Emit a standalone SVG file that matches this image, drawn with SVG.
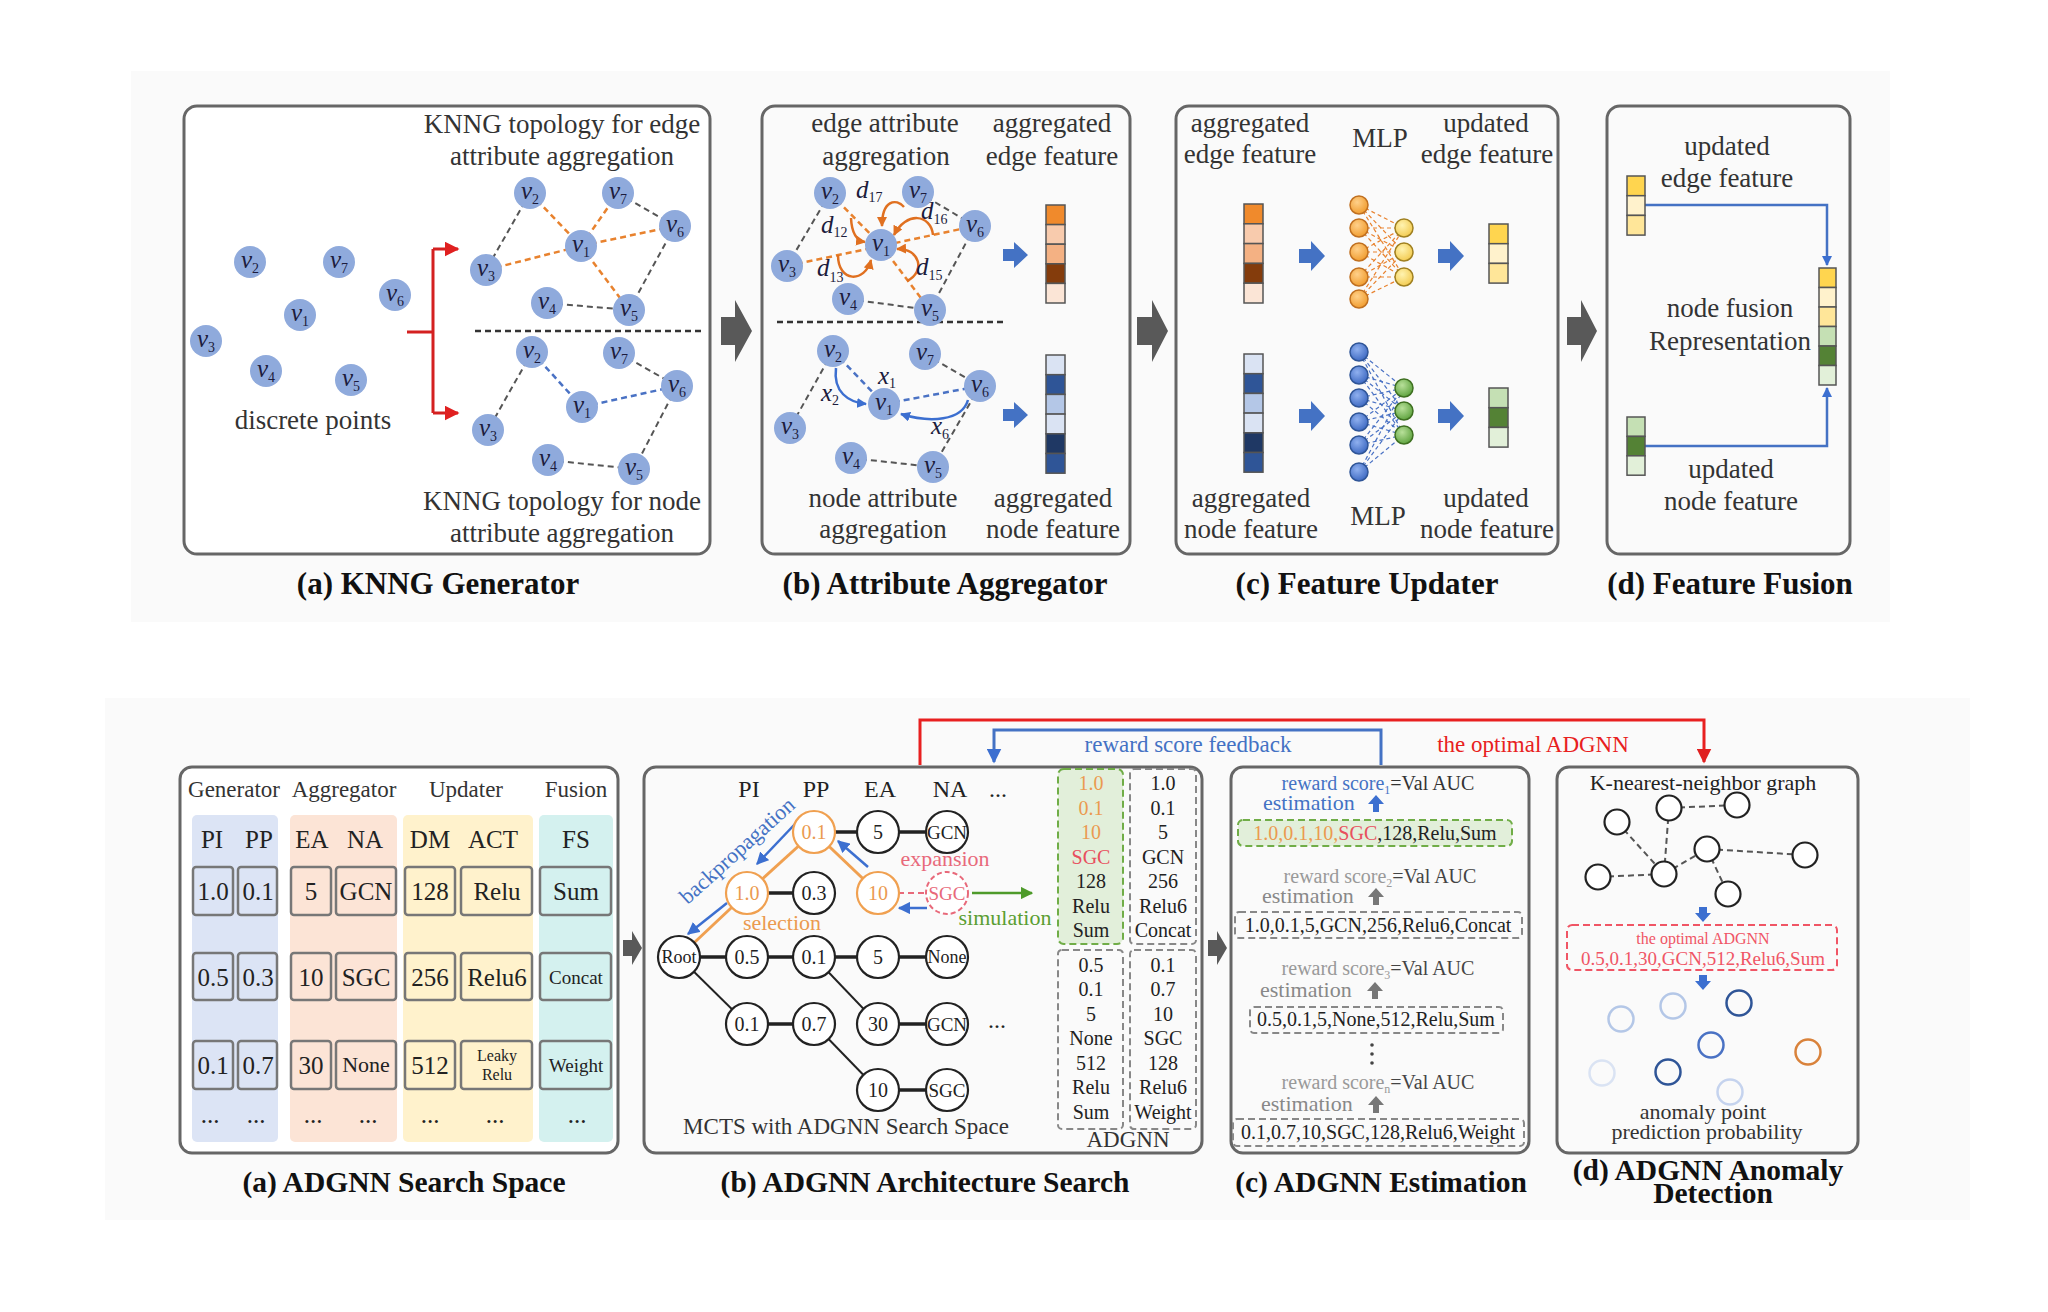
<svg xmlns="http://www.w3.org/2000/svg" width="2048" height="1312" viewBox="0 0 2048 1312">
<style>
text{font-family:"Liberation Serif","Times New Roman",serif;fill:#333}
.t27{font-size:27px}
.ttl{font-size:31px;font-weight:bold;fill:#111}
.ttl2{font-size:29.5px;font-weight:bold;fill:#111}
.box{fill:#fff;stroke:#666;stroke-width:3}
.vn{fill:#8faadc}
.vl{font-size:25px;font-style:italic;fill:#1c1c3c}
.vs{font-size:14px;font-style:normal}
.gd{stroke:#555;stroke-width:2;stroke-dasharray:6 4;fill:none}
.od{stroke:#e8822e;stroke-width:2.5;stroke-dasharray:6 4;fill:none}
.bd{stroke:#4a72c4;stroke-width:2.5;stroke-dasharray:6 4;fill:none}
.cell{stroke:#555;stroke-width:1.5}
.barrow{fill:#4472c4}
.garrow{fill:#595959}
.mo{fill:url(#gO);stroke:#c07020;stroke-width:1.5}
.my{fill:url(#gY);stroke:#a08020;stroke-width:1.5}
.mb{fill:url(#gB);stroke:#2f5597;stroke-width:1.5}
.mg{fill:url(#gG);stroke:#3e7020;stroke-width:1.5}
.mlo{stroke:#e8822e;stroke-width:1.2;stroke-dasharray:4 3}
.mlb{stroke:#4a72c4;stroke-width:1.2;stroke-dasharray:4 3}
.sc{stroke:#777;stroke-width:2.5;rx:3}
.c20{font-size:25px;text-anchor:middle;fill:#222}
.mc{fill:#fff;stroke:#222;stroke-width:2.2}
.mco{fill:#fff;stroke:#f0a050;stroke-width:2.2}
.ml{font-size:20px;text-anchor:middle;fill:#222}
.mlo2{font-size:20px;text-anchor:middle;fill:#eb9a50}
.hl{stroke:#222;stroke-width:3.5}
.dl{stroke:#222;stroke-width:2}
.ol{stroke:#f0a050;stroke-width:3}
.col{font-size:20px;text-anchor:middle;fill:#222}
.dash{fill:none;stroke:#888;stroke-width:2;stroke-dasharray:7 4}
.est{font-size:20px}
.kc{fill:#fff;stroke:#222;stroke-width:2.2}
</style>
<defs>
<marker id="mRed" viewBox="0 0 10 10" refX="9" refY="5" markerWidth="5" markerHeight="5" orient="auto"><path d="M0,0 L10,5 L0,10 Z" fill="#e02020"/></marker>
<marker id="mBlue" viewBox="0 0 10 10" refX="9" refY="5" markerWidth="5" markerHeight="5" orient="auto"><path d="M0,0 L10,5 L0,10 Z" fill="#3c6fd0"/></marker>
<marker id="mBlue2" viewBox="0 0 10 10" refX="9" refY="5" markerWidth="4" markerHeight="4" orient="auto"><path d="M0,0 L10,5 L0,10 Z" fill="#3c6fd0"/></marker>
<marker id="mOr" viewBox="0 0 10 10" refX="9" refY="5" markerWidth="4" markerHeight="4" orient="auto"><path d="M0,0 L10,5 L0,10 Z" fill="#e07020"/></marker>
<marker id="mGr" viewBox="0 0 10 10" refX="9" refY="5" markerWidth="5" markerHeight="5" orient="auto"><path d="M0,0 L10,5 L0,10 Z" fill="#4e9a2a"/></marker>
<radialGradient id="gO" cx="0.4" cy="0.35" r="0.7"><stop offset="0" stop-color="#ffd08a"/><stop offset="1" stop-color="#f09a2a"/></radialGradient>
<radialGradient id="gY" cx="0.4" cy="0.35" r="0.7"><stop offset="0" stop-color="#fff3b0"/><stop offset="1" stop-color="#f2c94c"/></radialGradient>
<radialGradient id="gB" cx="0.4" cy="0.35" r="0.7"><stop offset="0" stop-color="#8fb0ef"/><stop offset="1" stop-color="#3a66c0"/></radialGradient>
<radialGradient id="gG" cx="0.4" cy="0.35" r="0.7"><stop offset="0" stop-color="#b8e09a"/><stop offset="1" stop-color="#5aa03a"/></radialGradient>
</defs>
<rect width="2048" height="1312" fill="#fff"/>
<rect x="131" y="71" width="1759" height="551" fill="#fafafa"/>
<rect x="105" y="698" width="1865" height="522" fill="#fafafa"/>

<!-- ===== TOP (a) KNNG Generator ===== -->
<g id="panel-a-top">
<rect class="box" x="184" y="106" width="526" height="448" rx="13"/>
<text class="t27" x="562" y="133" text-anchor="middle">KNNG topology for edge</text>
<text class="t27" x="562" y="165" text-anchor="middle">attribute aggregation</text>
<text class="t27" x="562" y="510" text-anchor="middle">KNNG topology for node</text>
<text class="t27" x="562" y="542" text-anchor="middle">attribute aggregation</text>
<text class="t27" x="313" y="429" text-anchor="middle">discrete points</text>
<text class="ttl" x="438" y="594" text-anchor="middle">(a) KNNG Generator</text>
</g>
<g id="connectors">
<!-- top a -->
<line x1="475" y1="331" x2="704" y2="331" stroke="#333" stroke-width="2.5" stroke-dasharray="6 4"/>
<path d="M407 332 H433 M433 249 V413" stroke="#d42020" stroke-width="3" fill="none"/>
<path d="M433 249 H458" stroke="#d42020" stroke-width="3" fill="none" marker-end="url(#mRed)"/>
<path d="M433 413 H458" stroke="#d42020" stroke-width="3" fill="none" marker-end="url(#mRed)"/>
<line class="gd" x1="530" y1="193" x2="486" y2="270"/>
<line class="gd" x1="618" y1="193" x2="675" y2="226"/>
<line class="gd" x1="675" y1="226" x2="629" y2="310"/>
<line class="gd" x1="547" y1="303" x2="629" y2="310"/>
<line class="od" x1="530" y1="193" x2="581" y2="246"/>
<line class="od" x1="581" y1="246" x2="618" y2="193"/>
<line class="od" x1="581" y1="246" x2="675" y2="226"/>
<line class="od" x1="486" y1="270" x2="581" y2="246"/>
<line class="od" x1="581" y1="246" x2="629" y2="310"/>
<line class="gd" x1="532" y1="352" x2="488" y2="430"/>
<line class="gd" x1="619" y1="353" x2="677" y2="386"/>
<line class="gd" x1="677" y1="386" x2="634" y2="469"/>
<line class="gd" x1="548" y1="460" x2="634" y2="469"/>
<line class="bd" x1="532" y1="352" x2="582" y2="407"/>
<line class="bd" x1="582" y1="407" x2="677" y2="386"/>
<!-- top b -->
<line x1="777" y1="322" x2="1003" y2="322" stroke="#333" stroke-width="2.5" stroke-dasharray="6 4"/>
<line class="gd" x1="830" y1="193" x2="787" y2="266"/>
<line class="gd" x1="918" y1="192" x2="975" y2="226"/>
<line class="gd" x1="975" y1="226" x2="930" y2="310"/>
<line class="gd" x1="848" y1="299" x2="930" y2="310"/>
<line class="od" x1="830" y1="193" x2="881" y2="245"/>
<line class="od" x1="787" y1="266" x2="975" y2="226"/>
<line class="od" x1="881" y1="245" x2="930" y2="310"/>
<path d="M851 218 Q852 240 865 242" stroke="#e07020" stroke-width="2.5" fill="none" marker-end="url(#mOr)"/>
<path d="M904 207 C896 198 882 200 882 226" stroke="#e07020" stroke-width="2.5" fill="none" marker-end="url(#mOr)"/>
<path d="M933 235 C931 214 906 211 894 235" stroke="#e07020" stroke-width="2.5" fill="none" marker-end="url(#mOr)"/>
<path d="M907 281 C926 272 920 248 897 249" stroke="#e07020" stroke-width="2.5" fill="none" marker-end="url(#mOr)"/>
<path d="M838 255 C838 283 865 283 871 260" stroke="#e07020" stroke-width="2.5" fill="none" marker-end="url(#mOr)"/>
<line class="gd" x1="833" y1="351" x2="790" y2="428"/>
<line class="gd" x1="925" y1="354" x2="980" y2="386"/>
<line class="gd" x1="980" y1="386" x2="933" y2="467"/>
<line class="gd" x1="851" y1="458" x2="933" y2="467"/>
<line class="bd" x1="833" y1="351" x2="884" y2="404"/>
<line class="bd" x1="884" y1="404" x2="980" y2="386"/>
<path d="M836 368 C833 392 848 402 866 404" stroke="#3c6fd0" stroke-width="2.5" fill="none" marker-end="url(#mBlue2)"/>
<path d="M968 400 C962 421 930 423 901 414" stroke="#3c6fd0" stroke-width="2.5" fill="none" marker-end="url(#mBlue2)"/>
<!-- top d -->
<path d="M1645 205 H1827 V265" stroke="#4472c4" stroke-width="2.5" fill="none" marker-end="url(#mBlue2)"/>
<path d="M1645 446 H1827 V388" stroke="#4472c4" stroke-width="2.5" fill="none" marker-end="url(#mBlue2)"/>
<!-- panel arrows -->
<path class="garrow" d="M721 317 H735 V300 L752 331 L735 362 V345 H721 Z"/>
<path class="garrow" d="M1137 317 H1152 V300 L1168 331 L1152 362 V345 H1137 Z"/>
<path class="garrow" d="M1567 317 H1581 V300 L1597 331 L1581 362 V345 H1567 Z"/>
<path class="garrow" d="M623 940 H632 V931 L642 948 L632 965 V956 H623 Z"/>
<path class="garrow" d="M1208 940 H1217 V931 L1227 948 L1217 965 V956 H1208 Z"/>
<!-- feedback -->
<path d="M920 765 V720 H1704 V762" stroke="#e82020" stroke-width="3" fill="none" marker-end="url(#mRed)"/>
<path d="M1381 765 V730 H994 V762" stroke="#4472c4" stroke-width="3" fill="none" marker-end="url(#mBlue)"/>
<!-- MCTS edges -->
<line class="hl" x1="679" y1="957" x2="947" y2="957"/>
<line class="hl" x1="747" y1="893" x2="814" y2="893"/>
<line class="hl" x1="814" y1="832" x2="947" y2="832"/>
<line class="hl" x1="747" y1="1024" x2="814" y2="1024"/>
<line class="hl" x1="878" y1="1024" x2="947" y2="1024"/>
<line class="hl" x1="878" y1="1090" x2="947" y2="1090"/>
<line class="dl" x1="679" y1="957" x2="747" y2="1024"/>
<line class="dl" x1="814" y1="957" x2="878" y2="1024"/>
<line class="dl" x1="814" y1="1024" x2="878" y2="1090"/>
<line class="ol" x1="679" y1="957" x2="747" y2="893"/>
<line class="ol" x1="747" y1="893" x2="814" y2="832"/>
<line class="ol" x1="814" y1="832" x2="878" y2="893"/>
<line x1="878" y1="893" x2="947" y2="893" stroke="#e8697a" stroke-width="2" stroke-dasharray="6 4"/>
<path d="M868 867 L838 841" stroke="#3c6fd0" stroke-width="2.5" marker-end="url(#mBlue)"/>
<path d="M795 824 L757 864" stroke="#3c6fd0" stroke-width="2.5" marker-end="url(#mBlue)"/>
<path d="M727 903 L688 934" stroke="#3c6fd0" stroke-width="2.5" marker-end="url(#mBlue)"/>
<path d="M927 908 L899 908" stroke="#3c6fd0" stroke-width="2.5" marker-end="url(#mBlue)"/>
<path d="M972 893 L1032 893" stroke="#4e9a2a" stroke-width="2.5" marker-end="url(#mGr)"/>
<!-- KNN graph d -->
<line class="gd" x1="1669" y1="808" x2="1737" y2="805" stroke-width="2.5"/>
<line class="gd" x1="1617" y1="822" x2="1664" y2="874" stroke-width="2.5"/>
<line class="gd" x1="1669" y1="808" x2="1664" y2="874" stroke-width="2.5"/>
<line class="gd" x1="1598" y1="877" x2="1664" y2="874" stroke-width="2.5"/>
<line class="gd" x1="1664" y1="874" x2="1707" y2="849" stroke-width="2.5"/>
<line class="gd" x1="1707" y1="849" x2="1805" y2="855" stroke-width="2.5"/>
<line class="gd" x1="1707" y1="849" x2="1728" y2="894" stroke-width="2.5"/>
</g>

<!-- nodes top a -->
<g id="node-a-v2"><circle class="vn" cx="250" cy="262" r="16"/><text class="vl" x="241" y="268">v<tspan class="vs" dy="5">2</tspan></text></g>
<g id="node-a-v7"><circle class="vn" cx="339" cy="262" r="16"/><text class="vl" x="330" y="268">v<tspan class="vs" dy="5">7</tspan></text></g>
<g id="node-a-v6"><circle class="vn" cx="395" cy="295" r="16"/><text class="vl" x="386" y="301">v<tspan class="vs" dy="5">6</tspan></text></g>
<g id="node-a-v1"><circle class="vn" cx="300" cy="315" r="16"/><text class="vl" x="291" y="321">v<tspan class="vs" dy="5">1</tspan></text></g>
<g id="node-a-v3"><circle class="vn" cx="206" cy="341" r="16"/><text class="vl" x="197" y="347">v<tspan class="vs" dy="5">3</tspan></text></g>
<g id="node-a-v4"><circle class="vn" cx="266" cy="371" r="16"/><text class="vl" x="257" y="377">v<tspan class="vs" dy="5">4</tspan></text></g>
<g id="node-a-v5"><circle class="vn" cx="351" cy="380" r="16"/><text class="vl" x="342" y="386">v<tspan class="vs" dy="5">5</tspan></text></g>

<g id="node-ae-v2"><circle class="vn" cx="530" cy="193" r="16"/><text class="vl" x="521" y="199">v<tspan class="vs" dy="5">2</tspan></text></g>
<g id="node-ae-v7"><circle class="vn" cx="618" cy="193" r="16"/><text class="vl" x="609" y="199">v<tspan class="vs" dy="5">7</tspan></text></g>
<g id="node-ae-v6"><circle class="vn" cx="675" cy="226" r="16"/><text class="vl" x="666" y="232">v<tspan class="vs" dy="5">6</tspan></text></g>
<g id="node-ae-v1"><circle class="vn" cx="581" cy="246" r="16"/><text class="vl" x="572" y="252">v<tspan class="vs" dy="5">1</tspan></text></g>
<g id="node-ae-v3"><circle class="vn" cx="486" cy="270" r="16"/><text class="vl" x="477" y="276">v<tspan class="vs" dy="5">3</tspan></text></g>
<g id="node-ae-v4"><circle class="vn" cx="547" cy="303" r="16"/><text class="vl" x="538" y="309">v<tspan class="vs" dy="5">4</tspan></text></g>
<g id="node-ae-v5"><circle class="vn" cx="629" cy="310" r="16"/><text class="vl" x="620" y="316">v<tspan class="vs" dy="5">5</tspan></text></g>

<g id="node-an-v2"><circle class="vn" cx="532" cy="352" r="16"/><text class="vl" x="523" y="358">v<tspan class="vs" dy="5">2</tspan></text></g>
<g id="node-an-v7"><circle class="vn" cx="619" cy="353" r="16"/><text class="vl" x="610" y="359">v<tspan class="vs" dy="5">7</tspan></text></g>
<g id="node-an-v6"><circle class="vn" cx="677" cy="386" r="16"/><text class="vl" x="668" y="392">v<tspan class="vs" dy="5">6</tspan></text></g>
<g id="node-an-v1"><circle class="vn" cx="582" cy="407" r="16"/><text class="vl" x="573" y="413">v<tspan class="vs" dy="5">1</tspan></text></g>
<g id="node-an-v3"><circle class="vn" cx="488" cy="430" r="16"/><text class="vl" x="479" y="436">v<tspan class="vs" dy="5">3</tspan></text></g>
<g id="node-an-v4"><circle class="vn" cx="548" cy="460" r="16"/><text class="vl" x="539" y="466">v<tspan class="vs" dy="5">4</tspan></text></g>
<g id="node-an-v5"><circle class="vn" cx="634" cy="469" r="16"/><text class="vl" x="625" y="475">v<tspan class="vs" dy="5">5</tspan></text></g>

<!-- ===== TOP (b) ===== -->
<g id="panel-b-top">
<rect class="box" x="762" y="106" width="368" height="448" rx="13" fill="none" style="fill:none"/>
<text class="t27" x="885" y="132" text-anchor="middle">edge attribute</text>
<text class="t27" x="886" y="165" text-anchor="middle">aggregation</text>
<text class="t27" x="1052" y="132" text-anchor="middle">aggregated</text>
<text class="t27" x="1052" y="165" text-anchor="middle">edge feature</text>
<text class="t27" x="883" y="507" text-anchor="middle">node attribute</text>
<text class="t27" x="883" y="538" text-anchor="middle">aggregation</text>
<text class="t27" x="1053" y="507" text-anchor="middle">aggregated</text>
<text class="t27" x="1053" y="538" text-anchor="middle">node feature</text>
<text class="ttl" x="945" y="594" text-anchor="middle">(b) Attribute Aggregator</text>
</g>
<g id="node-be-v2"><circle class="vn" cx="830" cy="193" r="16"/><text class="vl" x="821" y="199">v<tspan class="vs" dy="5">2</tspan></text></g>
<g id="node-be-v7"><circle class="vn" cx="918" cy="192" r="16"/><text class="vl" x="909" y="198">v<tspan class="vs" dy="5">7</tspan></text></g>
<g id="node-be-v6"><circle class="vn" cx="975" cy="226" r="16"/><text class="vl" x="966" y="232">v<tspan class="vs" dy="5">6</tspan></text></g>
<g id="node-be-v1"><circle class="vn" cx="881" cy="245" r="16"/><text class="vl" x="872" y="251">v<tspan class="vs" dy="5">1</tspan></text></g>
<g id="node-be-v3"><circle class="vn" cx="787" cy="266" r="16"/><text class="vl" x="778" y="272">v<tspan class="vs" dy="5">3</tspan></text></g>
<g id="node-be-v4"><circle class="vn" cx="848" cy="299" r="16"/><text class="vl" x="839" y="305">v<tspan class="vs" dy="5">4</tspan></text></g>
<g id="node-be-v5"><circle class="vn" cx="930" cy="310" r="16"/><text class="vl" x="921" y="316">v<tspan class="vs" dy="5">5</tspan></text></g>
<g id="dlabels">
<text class="vl" x="856" y="198">d<tspan class="vs" dy="4">17</tspan></text>
<text class="vl" x="821" y="233">d<tspan class="vs" dy="4">12</tspan></text>
<text class="vl" x="921" y="219">d<tspan class="vs" dy="5">16</tspan></text>
<text class="vl" x="817" y="276">d<tspan class="vs" dy="6">13</tspan></text>
<text class="vl" x="916" y="275">d<tspan class="vs" dy="5">15</tspan></text>
<text class="vl" x="878" y="384">x<tspan class="vs" dy="4">1</tspan></text>
<text class="vl" x="821" y="401">x<tspan class="vs" dy="4">2</tspan></text>
<text class="vl" x="931" y="434">x<tspan class="vs" dy="5">6</tspan></text>
</g>
<g id="node-bn-v2"><circle class="vn" cx="833" cy="351" r="16"/><text class="vl" x="824" y="357">v<tspan class="vs" dy="5">2</tspan></text></g>
<g id="node-bn-v7"><circle class="vn" cx="925" cy="354" r="16"/><text class="vl" x="916" y="360">v<tspan class="vs" dy="5">7</tspan></text></g>
<g id="node-bn-v6"><circle class="vn" cx="980" cy="386" r="16"/><text class="vl" x="971" y="392">v<tspan class="vs" dy="5">6</tspan></text></g>
<g id="node-bn-v1"><circle class="vn" cx="884" cy="404" r="16"/><text class="vl" x="875" y="410">v<tspan class="vs" dy="5">1</tspan></text></g>
<g id="node-bn-v3"><circle class="vn" cx="790" cy="428" r="16"/><text class="vl" x="781" y="434">v<tspan class="vs" dy="5">3</tspan></text></g>
<g id="node-bn-v4"><circle class="vn" cx="851" cy="458" r="16"/><text class="vl" x="842" y="464">v<tspan class="vs" dy="5">4</tspan></text></g>
<g id="node-bn-v5"><circle class="vn" cx="933" cy="467" r="16"/><text class="vl" x="924" y="473">v<tspan class="vs" dy="5">5</tspan></text></g>
<g id="bar-b-edge">
<path class="barrow" d="M1003 249 H1014 V242 L1028 255 L1014 268 V261 H1003 Z"/>
<rect class="cell" x="1046" y="205" width="19" height="19.6" fill="#f08a2c"/>
<rect class="cell" x="1046" y="224.6" width="19" height="19.6" fill="#f8cbad"/>
<rect class="cell" x="1046" y="244.2" width="19" height="19.6" fill="#f4b183"/>
<rect class="cell" x="1046" y="263.8" width="19" height="19.6" fill="#843c0c"/>
<rect class="cell" x="1046" y="283.4" width="19" height="19.6" fill="#fbe5d6"/>
</g>
<g id="bar-b-node">
<path class="barrow" d="M1003 409 H1014 V402 L1028 415 L1014 428 V421 H1003 Z"/>
<rect class="cell" x="1046" y="355" width="19" height="19.7" fill="#dae3f3"/>
<rect class="cell" x="1046" y="374.7" width="19" height="19.7" fill="#2f5597"/>
<rect class="cell" x="1046" y="394.4" width="19" height="19.7" fill="#b4c7e7"/>
<rect class="cell" x="1046" y="414.1" width="19" height="19.7" fill="#dae3f3"/>
<rect class="cell" x="1046" y="433.8" width="19" height="19.7" fill="#1f3864"/>
<rect class="cell" x="1046" y="453.5" width="19" height="19.7" fill="#2f5597"/>
</g>

<!-- ===== TOP (c) ===== -->
<g id="panel-c-top">
<rect class="box" x="1176" y="106" width="382" height="448" rx="13" style="fill:none"/>
<text class="t27" x="1250" y="132" text-anchor="middle">aggregated</text>
<text class="t27" x="1250" y="163" text-anchor="middle">edge feature</text>
<text class="t27" x="1380" y="147" text-anchor="middle">MLP</text>
<text class="t27" x="1486" y="132" text-anchor="middle">updated</text>
<text class="t27" x="1487" y="163" text-anchor="middle">edge feature</text>
<text class="t27" x="1251" y="507" text-anchor="middle">aggregated</text>
<text class="t27" x="1251" y="538" text-anchor="middle">node feature</text>
<text class="t27" x="1378" y="525" text-anchor="middle">MLP</text>
<text class="t27" x="1486" y="507" text-anchor="middle">updated</text>
<text class="t27" x="1487" y="538" text-anchor="middle">node feature</text>
<text class="ttl" x="1367" y="594" text-anchor="middle">(c) Feature Updater</text>
</g>
<g id="bar-c-edge">
<rect class="cell" x="1244" y="204" width="19" height="19.8" fill="#f08a2c"/>
<rect class="cell" x="1244" y="223.8" width="19" height="19.8" fill="#f8cbad"/>
<rect class="cell" x="1244" y="243.6" width="19" height="19.8" fill="#f4b183"/>
<rect class="cell" x="1244" y="263.4" width="19" height="19.8" fill="#843c0c"/>
<rect class="cell" x="1244" y="283.2" width="19" height="19.8" fill="#fbe5d6"/>
<path class="barrow" d="M1299 249 H1311 V241 L1325 256 L1311 271 V263 H1299 Z"/>
<path class="barrow" d="M1438 249 H1450 V241 L1464 256 L1450 271 V263 H1438 Z"/>
<rect class="cell" x="1489" y="224" width="19" height="19.7" fill="#ffd54f"/>
<rect class="cell" x="1489" y="243.7" width="19" height="19.7" fill="#fff2cc"/>
<rect class="cell" x="1489" y="263.4" width="19" height="19.7" fill="#ffe699"/>
</g>
<g id="mlp-edge">
<g class="mlo">
<line x1="1359" y1="205" x2="1404" y2="228"/><line x1="1359" y1="205" x2="1404" y2="252"/><line x1="1359" y1="205" x2="1404" y2="277"/>
<line x1="1359" y1="228" x2="1404" y2="228"/><line x1="1359" y1="228" x2="1404" y2="252"/><line x1="1359" y1="228" x2="1404" y2="277"/>
<line x1="1359" y1="252" x2="1404" y2="228"/><line x1="1359" y1="252" x2="1404" y2="252"/><line x1="1359" y1="252" x2="1404" y2="277"/>
<line x1="1359" y1="277" x2="1404" y2="228"/><line x1="1359" y1="277" x2="1404" y2="252"/><line x1="1359" y1="277" x2="1404" y2="277"/>
<line x1="1359" y1="299" x2="1404" y2="228"/><line x1="1359" y1="299" x2="1404" y2="252"/><line x1="1359" y1="299" x2="1404" y2="277"/>
</g>
<circle class="mo" cx="1359" cy="205" r="9"/><circle class="mo" cx="1359" cy="228" r="9"/><circle class="mo" cx="1359" cy="252" r="9"/><circle class="mo" cx="1359" cy="277" r="9"/><circle class="mo" cx="1359" cy="299" r="9"/>
<circle class="my" cx="1404" cy="228" r="9"/><circle class="my" cx="1404" cy="252" r="9"/><circle class="my" cx="1404" cy="277" r="9"/>
</g>
<g id="bar-c-node">
<rect class="cell" x="1244" y="354" width="19" height="19.7" fill="#dae3f3"/>
<rect class="cell" x="1244" y="373.7" width="19" height="19.7" fill="#2f5597"/>
<rect class="cell" x="1244" y="393.4" width="19" height="19.7" fill="#b4c7e7"/>
<rect class="cell" x="1244" y="413.1" width="19" height="19.7" fill="#dae3f3"/>
<rect class="cell" x="1244" y="432.8" width="19" height="19.7" fill="#1f3864"/>
<rect class="cell" x="1244" y="452.5" width="19" height="19.7" fill="#2f5597"/>
<path class="barrow" d="M1299 409 H1311 V401 L1325 416 L1311 431 V423 H1299 Z"/>
<path class="barrow" d="M1438 409 H1450 V401 L1464 416 L1450 431 V423 H1438 Z"/>
<rect class="cell" x="1489" y="388" width="19" height="19.7" fill="#c5e0b4"/>
<rect class="cell" x="1489" y="407.7" width="19" height="19.7" fill="#548235"/>
<rect class="cell" x="1489" y="427.4" width="19" height="19.7" fill="#e2f0d9"/>
</g>
<g id="mlp-node">
<g class="mlb">
<line x1="1359" y1="352" x2="1404" y2="388"/><line x1="1359" y1="352" x2="1404" y2="411"/><line x1="1359" y1="352" x2="1404" y2="435"/>
<line x1="1359" y1="375" x2="1404" y2="388"/><line x1="1359" y1="375" x2="1404" y2="411"/><line x1="1359" y1="375" x2="1404" y2="435"/>
<line x1="1359" y1="398" x2="1404" y2="388"/><line x1="1359" y1="398" x2="1404" y2="411"/><line x1="1359" y1="398" x2="1404" y2="435"/>
<line x1="1359" y1="422" x2="1404" y2="388"/><line x1="1359" y1="422" x2="1404" y2="411"/><line x1="1359" y1="422" x2="1404" y2="435"/>
<line x1="1359" y1="445" x2="1404" y2="388"/><line x1="1359" y1="445" x2="1404" y2="411"/><line x1="1359" y1="445" x2="1404" y2="435"/>
<line x1="1359" y1="472" x2="1404" y2="388"/><line x1="1359" y1="472" x2="1404" y2="411"/><line x1="1359" y1="472" x2="1404" y2="435"/>
</g>
<circle class="mb" cx="1359" cy="352" r="9"/><circle class="mb" cx="1359" cy="375" r="9"/><circle class="mb" cx="1359" cy="398" r="9"/><circle class="mb" cx="1359" cy="422" r="9"/><circle class="mb" cx="1359" cy="445" r="9"/><circle class="mb" cx="1359" cy="472" r="9"/>
<circle class="mg" cx="1404" cy="388" r="9"/><circle class="mg" cx="1404" cy="411" r="9"/><circle class="mg" cx="1404" cy="435" r="9"/>
</g>

<!-- ===== TOP (d) ===== -->
<g id="panel-d-top">
<rect class="box" x="1607" y="106" width="243" height="448" rx="13" style="fill:none"/>
<text class="t27" x="1727" y="155" text-anchor="middle">updated</text>
<text class="t27" x="1727" y="187" text-anchor="middle">edge feature</text>
<text class="t27" x="1730" y="317" text-anchor="middle">node fusion</text>
<text class="t27" x="1730" y="350" text-anchor="middle">Representation</text>
<text class="t27" x="1731" y="478" text-anchor="middle">updated</text>
<text class="t27" x="1731" y="510" text-anchor="middle">node feature</text>
<text class="ttl" x="1730" y="594" text-anchor="middle">(d) Feature Fusion</text>
</g>
<g id="bar-d">
<rect class="cell" x="1627" y="176" width="18" height="19.7" fill="#ffd54f"/>
<rect class="cell" x="1627" y="195.7" width="18" height="19.7" fill="#fff2cc"/>
<rect class="cell" x="1627" y="215.4" width="18" height="19.7" fill="#ffe699"/>
<rect class="cell" x="1627" y="417" width="18" height="19.4" fill="#c5e0b4"/>
<rect class="cell" x="1627" y="436.4" width="18" height="19.4" fill="#548235"/>
<rect class="cell" x="1627" y="455.8" width="18" height="19.4" fill="#e2f0d9"/>
<rect class="cell" x="1819" y="268" width="17" height="19.5" fill="#ffd54f"/>
<rect class="cell" x="1819" y="287.5" width="17" height="19.5" fill="#fff2cc"/>
<rect class="cell" x="1819" y="307" width="17" height="19.5" fill="#ffe699"/>
<rect class="cell" x="1819" y="326.5" width="17" height="19.5" fill="#c5e0b4"/>
<rect class="cell" x="1819" y="346" width="17" height="19.5" fill="#548235"/>
<rect class="cell" x="1819" y="365.5" width="17" height="19.5" fill="#e2f0d9"/>
</g>

<!-- ===== BOTTOM (a) Search space ===== -->
<g id="panel-a-bot">
<rect class="box" x="180" y="767" width="438" height="386" rx="12"/>
<rect x="192" y="815" width="86" height="327" rx="5" fill="#dce4f5"/>
<rect x="290" y="815" width="107" height="327" rx="5" fill="#fce4d6"/>
<rect x="403" y="815" width="130" height="327" rx="5" fill="#fff2cc"/>
<rect x="539" y="815" width="74" height="327" rx="5" fill="#d4f1ef"/>
<g style="font-size:23px;text-anchor:middle">
<text x="234" y="797">Generator</text><text x="344" y="797">Aggregator</text><text x="466" y="797">Updater</text><text x="576" y="797">Fusion</text>
</g>
<g style="font-size:25px;text-anchor:middle;fill:#222">
<text x="212" y="848" style="fill:#222">PI</text><text x="259" y="848" style="fill:#222">PP</text><text x="312" y="848" style="fill:#222">EA</text><text x="365" y="848" style="fill:#222">NA</text><text x="430" y="848" style="fill:#222">DM</text><text x="493" y="848" style="fill:#222">ACT</text><text x="576" y="848" style="fill:#222">FS</text>
</g>
<g fill="none" stroke="#777" stroke-width="2.5">
<rect x="193" y="867" width="40" height="48" rx="3"/><rect x="238" y="867" width="39" height="48" rx="3"/><rect x="291" y="867" width="40" height="48" rx="3"/><rect x="336" y="867" width="60" height="48" rx="3"/><rect x="405" y="867" width="50" height="48" rx="3"/><rect x="461" y="867" width="71" height="48" rx="3"/><rect x="540" y="867" width="71" height="48" rx="3"/>
<rect x="193" y="953" width="40" height="47" rx="3"/><rect x="238" y="953" width="39" height="47" rx="3"/><rect x="291" y="953" width="40" height="47" rx="3"/><rect x="336" y="953" width="60" height="47" rx="3"/><rect x="405" y="953" width="50" height="47" rx="3"/><rect x="461" y="953" width="71" height="47" rx="3"/><rect x="540" y="953" width="71" height="47" rx="3"/>
<rect x="193" y="1041" width="40" height="48" rx="3"/><rect x="238" y="1041" width="39" height="48" rx="3"/><rect x="291" y="1041" width="40" height="48" rx="3"/><rect x="336" y="1041" width="60" height="48" rx="3"/><rect x="405" y="1041" width="50" height="48" rx="3"/><rect x="461" y="1041" width="71" height="48" rx="3"/><rect x="540" y="1041" width="71" height="48" rx="3"/>
</g>
<g class="c20">
<text class="c20" x="213" y="900">1.0</text><text class="c20" x="258" y="900">0.1</text><text class="c20" x="311" y="900">5</text><text class="c20" x="366" y="900">GCN</text><text class="c20" x="430" y="900">128</text><text class="c20" x="497" y="900">Relu</text><text class="c20" x="576" y="900">Sum</text>
<text class="c20" x="213" y="986">0.5</text><text class="c20" x="258" y="986">0.3</text><text class="c20" x="311" y="986">10</text><text class="c20" x="366" y="986">SGC</text><text class="c20" x="430" y="986">256</text><text class="c20" x="497" y="986">Relu6</text><text class="c20" x="576" y="984" style="font-size:19px">Concat</text>
<text class="c20" x="213" y="1074">0.1</text><text class="c20" x="258" y="1074">0.7</text><text class="c20" x="311" y="1074">30</text><text class="c20" x="366" y="1072" style="font-size:22px">None</text><text class="c20" x="430" y="1074">512</text><text class="c20" x="497" y="1061" style="font-size:16px">Leaky</text><text class="c20" x="497" y="1080" style="font-size:16px">Relu</text><text class="c20" x="576" y="1072" style="font-size:19px">Weight</text>
<text class="c20" x="210" y="1123">...</text><text class="c20" x="256" y="1123">...</text><text class="c20" x="313" y="1123">...</text><text class="c20" x="368" y="1123">...</text><text class="c20" x="430" y="1123">...</text><text class="c20" x="495" y="1123">...</text><text class="c20" x="577" y="1123">...</text>
</g>
<text class="ttl2" x="404" y="1192" text-anchor="middle">(a) ADGNN Search Space</text>
</g>

<!-- ===== BOTTOM (b) Architecture search ===== -->
<g id="panel-b-bot">
<rect class="box" x="644" y="767" width="558" height="386" rx="12" style="fill:none"/>
<g style="font-size:24px;text-anchor:middle">
<text x="749" y="797" style="fill:#222">PI</text><text x="816" y="797" style="fill:#222">PP</text><text x="880" y="797" style="fill:#222">EA</text><text x="950" y="797" style="fill:#222">NA</text><text x="998" y="797" style="fill:#222">...</text>
</g>
<text x="742" y="856" transform="rotate(-42 742 856)" text-anchor="middle" style="font-size:22px;fill:#4472c4">backpropagation</text>
<text x="782" y="930" text-anchor="middle" style="font-size:22px;fill:#eb9a50">selection</text>
<text x="945" y="866" text-anchor="middle" style="font-size:22px;fill:#e8697a">expansion</text>
<text x="1005" y="925" text-anchor="middle" style="font-size:22px;fill:#5a9e32">simulation</text>
<text x="846" y="1134" text-anchor="middle" style="font-size:23px">MCTS with ADGNN Search Space</text>
<text class="ttl2" x="925" y="1192" text-anchor="middle">(b) ADGNN Architecture Search</text>
</g>
<g id="mcts-nodes">
<g id="m-01a"><circle class="mco" cx="814" cy="832" r="21"/><text class="mlo2" x="814" y="839">0.1</text></g>
<g id="m-5a"><circle class="mc" cx="878" cy="832" r="21"/><text class="ml" x="878" y="839">5</text></g>
<g id="m-gcna"><circle class="mc" cx="947" cy="832" r="21"/><text class="ml" x="947" y="839" style="font-size:19px">GCN</text></g>
<g id="m-10a"><circle class="mco" cx="747" cy="893" r="21"/><text class="mlo2" x="747" y="900">1.0</text></g>
<g id="m-03"><circle class="mc" cx="814" cy="893" r="21"/><text class="ml" x="814" y="900">0.3</text></g>
<g id="m-10b"><circle class="mco" cx="878" cy="893" r="21"/><text class="mlo2" x="878" y="900">10</text></g>
<g id="m-sgca"><circle cx="947" cy="893" r="21" fill="#fff" stroke="#e8697a" stroke-width="2" stroke-dasharray="5 3"/><text class="ml" x="947" y="900" style="font-size:19px;fill:#e8697a">SGC</text></g>
<g id="m-root"><circle class="mc" cx="679" cy="957" r="21"/><text class="ml" x="679" y="963" style="font-size:18px">Root</text></g>
<g id="m-05"><circle class="mc" cx="747" cy="957" r="21"/><text class="ml" x="747" y="964">0.5</text></g>
<g id="m-01b"><circle class="mc" cx="814" cy="957" r="21"/><text class="ml" x="814" y="964">0.1</text></g>
<g id="m-5b"><circle class="mc" cx="878" cy="957" r="21"/><text class="ml" x="878" y="964">5</text></g>
<g id="m-none"><circle class="mc" cx="947" cy="957" r="21"/><text class="ml" x="947" y="963" style="font-size:18px">None</text></g>
<g id="m-01c"><circle class="mc" cx="747" cy="1024" r="21"/><text class="ml" x="747" y="1031">0.1</text></g>
<g id="m-07"><circle class="mc" cx="814" cy="1024" r="21"/><text class="ml" x="814" y="1031">0.7</text></g>
<g id="m-30"><circle class="mc" cx="878" cy="1024" r="21"/><text class="ml" x="878" y="1031">30</text></g>
<g id="m-gcnb"><circle class="mc" cx="947" cy="1024" r="21"/><text class="ml" x="947" y="1031" style="font-size:19px">GCN</text></g>
<text x="997" y="1028" text-anchor="middle" style="font-size:24px;fill:#222">...</text>
<g id="m-10c"><circle class="mc" cx="878" cy="1090" r="21"/><text class="ml" x="878" y="1097">10</text></g>
<g id="m-sgcb"><circle class="mc" cx="947" cy="1090" r="21"/><text class="ml" x="947" y="1097" style="font-size:19px">SGC</text></g>
</g>
<g id="adgnn-cols">
<rect x="1058" y="769" width="65" height="175" rx="6" fill="#e2efda" stroke="#70ad47" stroke-width="2" stroke-dasharray="7 4"/>
<rect class="dash" x="1130" y="769" width="66" height="175" rx="4"/>
<rect class="dash" x="1058" y="950" width="65" height="179" rx="4"/>
<rect class="dash" x="1130" y="950" width="66" height="179" rx="4"/>
<g class="col">
<text class="col" x="1091" y="790" style="fill:#eb9a50">1.0</text><text class="col" x="1091" y="815" style="fill:#eb9a50">0.1</text><text class="col" x="1091" y="839" style="fill:#eb9a50">10</text><text class="col" x="1091" y="864" style="fill:#e8505e">SGC</text><text class="col" x="1091" y="888">128</text><text class="col" x="1091" y="913">Relu</text><text class="col" x="1091" y="937">Sum</text>
<text class="col" x="1163" y="790">1.0</text><text class="col" x="1163" y="815">0.1</text><text class="col" x="1163" y="839">5</text><text class="col" x="1163" y="864">GCN</text><text class="col" x="1163" y="888">256</text><text class="col" x="1163" y="913">Relu6</text><text class="col" x="1163" y="937">Concat</text>
<text class="col" x="1091" y="972">0.5</text><text class="col" x="1091" y="996">0.1</text><text class="col" x="1091" y="1021">5</text><text class="col" x="1091" y="1045">None</text><text class="col" x="1091" y="1070">512</text><text class="col" x="1091" y="1094">Relu</text><text class="col" x="1091" y="1119">Sum</text>
<text class="col" x="1163" y="972">0.1</text><text class="col" x="1163" y="996">0.7</text><text class="col" x="1163" y="1021">10</text><text class="col" x="1163" y="1045">SGC</text><text class="col" x="1163" y="1070">128</text><text class="col" x="1163" y="1094">Relu6</text><text class="col" x="1163" y="1119">Weight</text>
</g>
<text x="1128" y="1147" text-anchor="middle" style="font-size:23px">ADGNN</text>
</g>
<text x="1188" y="752" text-anchor="middle" style="font-size:23px;fill:#4472c4">reward score feedback</text>
<text x="1533" y="752" text-anchor="middle" style="font-size:23px;fill:#e82020">the optimal ADGNN</text>

<!-- ===== BOTTOM (c) Estimation ===== -->
<g id="panel-c-bot">
<rect class="box" x="1231" y="767" width="298" height="386" rx="12" style="fill:none"/>
<text class="est" x="1378" y="790" text-anchor="middle"><tspan style="fill:#4472c4">reward score</tspan><tspan style="fill:#4472c4;font-size:12px" dy="4">1</tspan><tspan dy="-4" style="fill:#333">=Val AUC</tspan></text>
<text x="1263" y="810" style="font-size:22px;fill:#4472c4">estimation</text>
<path d="M1368 804 L1376 795 L1384 804 H1379 V812 H1373 V804 Z" fill="#3c6fd0"/>
<rect x="1238" y="820" width="274" height="26" rx="5" fill="#e2efda" stroke="#70ad47" stroke-width="2" stroke-dasharray="7 4"/>
<text class="est" x="1375" y="840" text-anchor="middle"><tspan style="fill:#eb9a50">1.0,0.1,10,</tspan><tspan style="fill:#e8505e">SGC</tspan><tspan style="fill:#222">,128,Relu,Sum</tspan></text>

<text class="est" x="1380" y="883" text-anchor="middle"><tspan style="fill:#999">reward score</tspan><tspan style="fill:#999;font-size:12px" dy="4">2</tspan><tspan dy="-4" style="fill:#444">=Val AUC</tspan></text>
<text x="1262" y="903" style="font-size:22px;fill:#888">estimation</text>
<path d="M1368 897 L1376 888 L1384 897 H1379 V905 H1373 V897 Z" fill="#777"/>
<rect class="dash" x="1235" y="912" width="287" height="26" rx="4"/>
<text class="est" x="1378" y="932" text-anchor="middle" style="fill:#222">1.0,0.1,5,GCN,256,Relu6,Concat</text>

<text class="est" x="1378" y="975" text-anchor="middle"><tspan style="fill:#999">reward score</tspan><tspan style="fill:#999;font-size:12px" dy="4">3</tspan><tspan dy="-4" style="fill:#444">=Val AUC</tspan></text>
<text x="1260" y="997" style="font-size:22px;fill:#888">estimation</text>
<path d="M1367 991 L1375 982 L1383 991 H1378 V999 H1372 V991 Z" fill="#777"/>
<rect class="dash" x="1250" y="1007" width="253" height="26" rx="4"/>
<text class="est" x="1376" y="1026" text-anchor="middle" style="fill:#222">0.5,0.1,5,None,512,Relu,Sum</text>
<circle cx="1372" cy="1045" r="1.8" fill="#444"/><circle cx="1372" cy="1054" r="1.8" fill="#444"/><circle cx="1372" cy="1063" r="1.8" fill="#444"/>

<text class="est" x="1378" y="1089" text-anchor="middle"><tspan style="fill:#999">reward score</tspan><tspan style="fill:#999;font-size:12px" dy="4">n</tspan><tspan dy="-4" style="fill:#444">=Val AUC</tspan></text>
<text x="1261" y="1111" style="font-size:22px;fill:#888">estimation</text>
<path d="M1368 1105 L1376 1096 L1384 1105 H1379 V1113 H1373 V1105 Z" fill="#777"/>
<rect class="dash" x="1233" y="1119" width="291" height="27" rx="4"/>
<text class="est" x="1378" y="1139" text-anchor="middle" style="fill:#222">0.1,0.7,10,SGC,128,Relu6,Weight</text>
<text class="ttl2" x="1381" y="1192" text-anchor="middle">(c) ADGNN Estimation</text>
</g>

<!-- ===== BOTTOM (d) Anomaly detection ===== -->
<g id="panel-d-bot">
<rect class="box" x="1557" y="767" width="301" height="386" rx="12" style="fill:none"/>
<text x="1703" y="790" text-anchor="middle" style="font-size:22px;fill:#222">K-nearest-neighbor graph</text>
<circle class="kc" cx="1617" cy="822" r="12.5"/><circle class="kc" cx="1669" cy="808" r="12.5"/><circle class="kc" cx="1737" cy="805" r="12.5"/><circle class="kc" cx="1707" cy="849" r="12.5"/><circle class="kc" cx="1805" cy="855" r="12.5"/><circle class="kc" cx="1598" cy="877" r="12.5"/><circle class="kc" cx="1664" cy="874" r="12.5"/><circle class="kc" cx="1728" cy="894" r="12.5"/>
<path d="M1699 907 H1707 V913 H1711 L1703 922 L1695 913 H1699 Z" fill="#3c6fd0"/>
<rect x="1567" y="925" width="270" height="45" rx="5" fill="none" stroke="#f05565" stroke-width="2" stroke-dasharray="7 4"/>
<text x="1703" y="944" text-anchor="middle" style="font-size:16px;fill:#f05565">the optimal ADGNN</text>
<text x="1703" y="965" text-anchor="middle" style="font-size:19px;fill:#f05565">0.5,0.1,30,GCN,512,Relu6,Sum</text>
<path d="M1699 975 H1707 V981 H1711 L1703 990 L1695 981 H1699 Z" fill="#3c6fd0"/>
<g fill="none" stroke-width="2.5">
<circle cx="1621" cy="1019" r="12.5" stroke="#b4c7e7"/>
<circle cx="1673" cy="1006" r="12.5" stroke="#b4c7e7"/>
<circle cx="1739" cy="1003" r="12.5" stroke="#2f5597"/>
<circle cx="1711" cy="1045" r="12.5" stroke="#4a72c4"/>
<circle cx="1808" cy="1052" r="12.5" stroke="#d9823b"/>
<circle cx="1602" cy="1073" r="12.5" stroke="#dae3f3"/>
<circle cx="1668" cy="1072" r="12.5" stroke="#2f5597"/>
<circle cx="1730" cy="1092" r="12.5" stroke="#c5d3ee"/>
</g>
<text x="1703" y="1119" text-anchor="middle" style="font-size:22px">anomaly point</text>
<text x="1707" y="1139" text-anchor="middle" style="font-size:22px">prediction probability</text>
<text class="ttl2" x="1708" y="1180" text-anchor="middle">(d) ADGNN Anomaly</text>
<text class="ttl2" x="1713" y="1203" text-anchor="middle">Detection</text>
</g>
</svg>
